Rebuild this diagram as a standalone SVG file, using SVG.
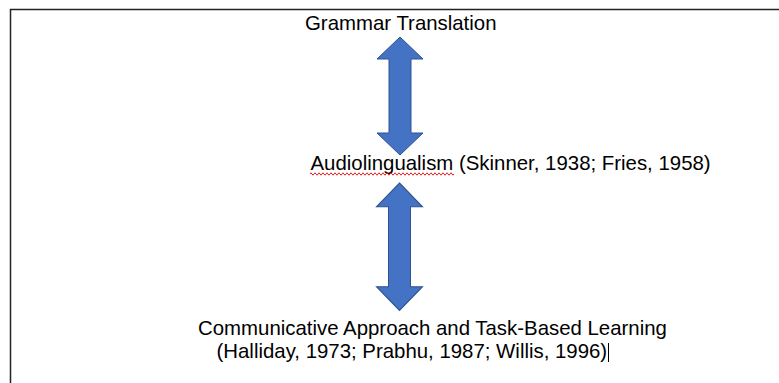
<svg xmlns="http://www.w3.org/2000/svg" width="779" height="383" viewBox="0 0 779 383">
  <style>
    .lbl { font-family: "Liberation Sans", Arial, sans-serif; font-size: 20.4px; fill: #000; }
    .arrow { fill: #4472C4; stroke: #2F528F; stroke-width: 1; }
    .frame { fill: none; stroke: #222; stroke-width: 1.5; }
  </style>
  <defs>
    <path id="dbl" d="M0,0 L23,22 L11,22 L11,96 L23,96 L0,118 L-23,96 L-11,96 L-11,22 L-23,22 Z"/>
  </defs>
  <rect width="779" height="383" fill="#fff"/>
  <path class="frame" d="M10.5,383 L10.5,9.5 L779,9.5"/>
  <g id="connectors">
    <use href="#dbl" class="arrow" transform="translate(400,37)"/>
    <use href="#dbl" class="arrow" transform="translate(399.5,183) scale(1,1.08)"/>
  </g>
  <g id="node-grammar">
    <text class="lbl" x="305" y="30">Grammar Translation</text>
  </g>
  <g id="node-audio">
    <text class="lbl" x="310.5" y="170">Audiolingualism (Skinner, 1938; Fries, 1958)</text>
    <path d="M310,174 q1,-2.4 2,0 t2,0 t2,0 t2,0 t2,0 t2,0 t2,0 t2,0 t2,0 t2,0 t2,0 t2,0 t2,0 t2,0 t2,0 t2,0 t2,0 t2,0 t2,0 t2,0 t2,0 t2,0 t2,0 t2,0 t2,0 t2,0 t2,0 t2,0 t2,0 t2,0 t2,0 t2,0 t2,0 t2,0 t2,0 t2,0 t2,0 t2,0 t2,0 t2,0 t2,0 t2,0 t2,0 t2,0 t2,0 t2,0 t2,0 t2,0 t2,0 t2,0 t2,0 t2,0 t2,0 t2,0 t2,0 t2,0 t2,0 t2,0 t2,0 t2,0 t2,0 t2,0 t2,0 t2,0 t2,0 t2,0 t2,0 t2,0 t2,0 t2,0 t2,0 t2,0" fill="none" stroke="#E02020" stroke-width="1"/>
  </g>
  <g id="node-communicative">
    <text class="lbl" x="198" y="335">Communicative Approach and Task-Based Learning</text>
    <text class="lbl" x="216.5" y="358">(Halliday, 1973; Prabhu, 1987; Willis, 1996)</text>
    <line x1="608.5" y1="343" x2="608.5" y2="362" stroke="#000" stroke-width="1"/>
  </g>
</svg>
